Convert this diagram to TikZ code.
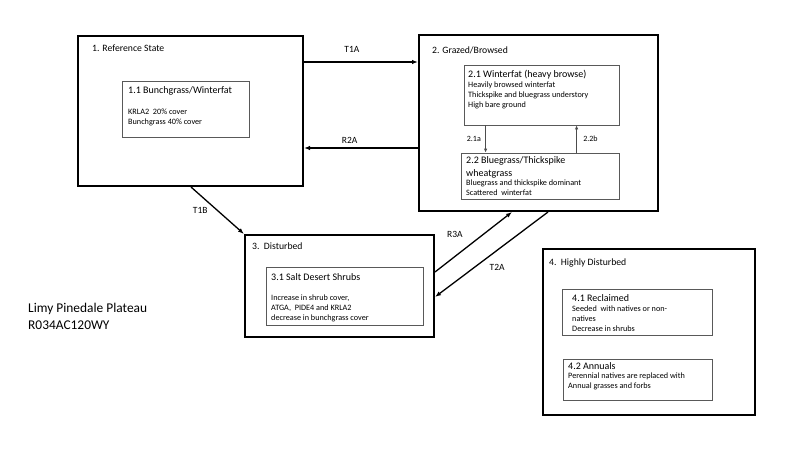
\documentclass[tikz,border=0pt]{standalone}
\usepackage{fontspec}
\setmainfont{Carlito}
\usetikzlibrary{arrows.meta}

\begin{document}
\begin{tikzpicture}[x=1pt, y=-1pt,
    state/.style={draw, line width=2pt, inner sep=0pt},
    phase/.style={draw=black!65, line width=0.8pt, inner sep=0pt},
    stitle/.style={anchor=north west, inner sep=0pt, font=\fontsize{9.7}{11}\selectfont},
    ptitle/.style={anchor=north west, inner sep=0pt, align=left, font=\fontsize{10}{13}\selectfont},
    ptext/.style={anchor=north west, inner sep=0pt, align=left, font=\fontsize{8.2}{10}\selectfont},
    trans/.style={-{Latex[length=6pt,width=4.5pt]}, line width=1.3pt},
    pshift/.style={-{Latex[length=4pt,width=3.5pt]}, draw=black!70, line width=0.8pt},
    lbl/.style={font=\fontsize{9.5}{11}\selectfont}]
        \useasboundingbox (0,0) rectangle (800,450);

        % Draw states
        \node[state, minimum width=225pt, minimum height=150pt] (s1) at (190.5,111) {};
        \node[state, minimum width=239pt, minimum height=176pt] (s2) at (538.5,123) {};
        \node[state, minimum width=189pt, minimum height=102pt] (s3) at (339.5,286) {};
        \node[state, minimum width=212pt, minimum height=166pt] (s4) at (649,332) {};
        \node[stitle] (t1) at (92,45) {1. Reference State};
        \node[stitle] (t2) at (432,47) {2. Grazed/Browsed};
        \node[stitle] (t3) at (252,243) {3.\ \ Disturbed};
        \node[stitle] (t4) at (549,259) {4.\ \ Highly Disturbed};

        % Draw phases
        \node[phase, minimum width=127pt, minimum height=56pt] (p11) at (185.5,109) {};
        \node[phase, minimum width=155pt, minimum height=60pt] (p21) at (541.5,95) {};
        \node[phase, minimum width=158pt, minimum height=46pt] (p22) at (540,176) {};
        \node[phase, minimum width=157pt, minimum height=58pt] (p31) at (344.5,296) {};
        \node[phase, minimum width=150pt, minimum height=46pt] (p41) at (637,312) {};
        \node[phase, minimum width=149pt, minimum height=41pt] (p42) at (637.5,379.5) {};

        % Phase texts
        \node[ptitle] (h11) at (128,86) {1.1 Bunchgrass/Winterfat};
        \node[ptext] (x11) at (128,109) {KRLA2\ \ 20\% cover\\Bunchgrass 40\% cover};
        \node[ptitle] (h21) at (468,70) {2.1 Winterfat (heavy browse)};
        \node[ptext] (x21) at (468,81.5) {Heavily browsed winterfat\\Thickspike and bluegrass understory\\High bare ground};
        \node[ptitle] (h22) at (466,156) {2.2 Bluegrass/Thickspike\\wheatgrass};
        \node[ptext] (x22) at (466,180) {Bluegrass and thickspike dominant\\Scattered\ \ winterfat};
        \node[ptitle] (h31) at (271,273) {3.1 Salt Desert Shrubs};
        \node[ptext] (x31) at (271,295) {Increase in shrub cover,\\ATGA,\ \ PIDE4 and KRLA2\\decrease in bunchgrass cover};
        \node[ptitle] (h41) at (572,294) {4.1 Reclaimed};
        \node[ptext] (x41) at (572,306) {Seeded\ \ with natives or non-\\natives\\Decrease in shrubs};
        \node[ptitle] (h42) at (568,362) {4.2 Annuals};
        \node[ptext] (x42) at (568,373) {Perennial natives are replaced with\\Annual grasses and forbs};

        % Site name
        \node[anchor=north west, inner sep=0pt, align=left, font=\fontsize{13.4}{17}\selectfont] (site) at (28,302.5) {Limy Pinedale Plateau\\R034AC120WY};

        % Draw transitions
        \draw[trans] ([yshift=-27pt]s1.north east) -- node[lbl, pos=0.42, above=6pt] {T1A} ([yshift=-28pt]s2.north west);
        \draw[trans] ([yshift=-114pt]s2.north west) -- node[lbl, pos=0.6, above=1pt] {R2A} ([yshift=-113pt]s1.north east);
        \draw[trans] ([xshift=114pt]s1.south west) -- node[lbl, midway, left=6pt] {T1B} (s3.north west);
        \draw[trans] ([yshift=-38pt]s3.north east) -- node[lbl, pos=0.45, above left=3pt] {R3A} ([xshift=94pt]s2.south west);
        \draw[trans] ([xshift=130pt]s2.south west) -- node[lbl, pos=0.45, below=10pt] {T2A} ([yshift=-63pt]s3.north east);
        \draw[pshift] ([xshift=22pt]p21.south west) -- node[lbl, font=\fontsize{8}{9}\selectfont, midway, left=1pt] {2.1a} ([xshift=25pt]p22.north west);
        \draw[pshift] ([xshift=116pt]p22.north west) -- node[lbl, font=\fontsize{8}{9}\selectfont, midway, right=3pt] {2.2b} ([xshift=113pt]p21.south west);
\end{tikzpicture}
\end{document}
